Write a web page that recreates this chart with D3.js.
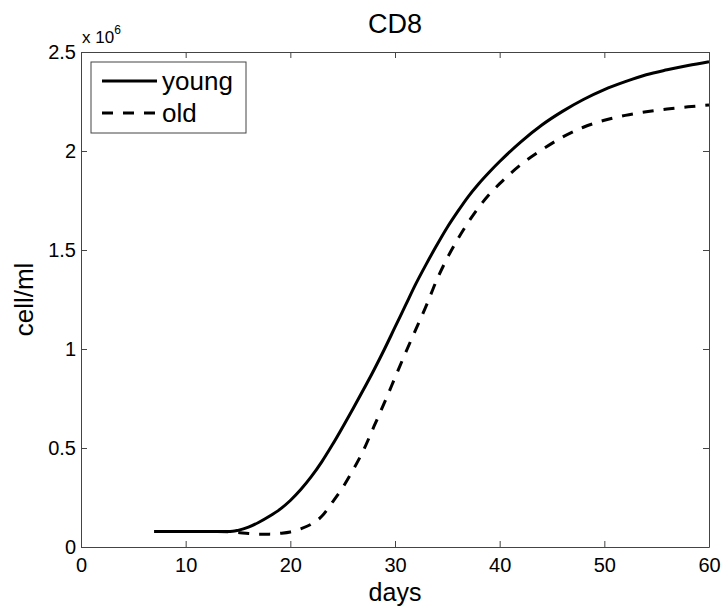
<!DOCTYPE html>
<html>

<head>
    <title>CD8</title>
    <script src="https://d3js.org/d3.v7.min.js"></script>
    <style>
        body {
            margin: 0;
            background: white;
        }

        text {
            font-family: "Liberation Sans", Arial, Helvetica, sans-serif;
            fill: #000;
        }

        .tick text {
            font-size: 20px;
        }
    </style>
</head>

<body>
    <div id="chart"></div>

    <script>
        // days and values (in units of 10^6 cell/ml)
        const youngDays = [7, 8, 10, 12, 14, 14.5, 15, 16, 17, 18, 19, 20, 21, 22, 23, 24, 26, 28, 29, 30, 31, 32, 33, 34, 35, 36, 37, 38, 39, 40, 42, 44, 46, 48, 50, 52, 54, 56, 58, 60]
        const youngValues = [0.078, 0.078, 0.078, 0.078, 0.078, 0.079, 0.084, 0.10, 0.125, 0.155, 0.19, 0.235, 0.29, 0.355, 0.43, 0.515, 0.70, 0.895, 1.0, 1.11, 1.22, 1.33, 1.43, 1.525, 1.615, 1.695, 1.77, 1.835, 1.893, 1.947, 2.045, 2.13, 2.20, 2.26, 2.31, 2.35, 2.385, 2.41, 2.432, 2.451]

        const oldDays = [7, 8, 10, 12, 14, 15, 16, 17, 18, 19, 20, 21, 22, 23, 24, 25, 26, 27, 28, 29, 30, 31, 32, 33, 34, 35, 36, 37, 38, 39, 40, 42, 44, 46, 48, 50, 52, 54, 56, 58, 60]
        const oldValues = [0.078, 0.078, 0.078, 0.078, 0.077, 0.073, 0.068, 0.065, 0.065, 0.069, 0.076, 0.092, 0.115, 0.155, 0.225, 0.30, 0.39, 0.49, 0.61, 0.73, 0.855, 0.98, 1.10, 1.22, 1.35, 1.46, 1.555, 1.64, 1.715, 1.78, 1.835, 1.93, 2.005, 2.07, 2.12, 2.155, 2.18, 2.198, 2.212, 2.223, 2.232]

        const xTicks = [0, 10, 20, 30, 40, 50, 60]
        const yTicks = [0, 0.5, 1, 1.5, 2, 2.5]
        const seriesNames = ["young", "old"]

        const width = 724, height = 610
        const margin = { top: 52, right: 15, bottom: 63, left: 81 }

        const svg = d3.select("#chart")
            .append("svg")
            .attr("width", width)
            .attr("height", height)

        const x = d3.scaleLinear().domain([0, 60]).range([margin.left, width - margin.right])
        const y = d3.scaleLinear().domain([0, 2.5]).range([height - margin.bottom, margin.top])

        // axes with inward ticks on all four sides
        const frame = svg.append("g").attr("class", "frame")

        frame.append("g")
            .attr("transform", `translate(0,${y(0)})`)
            .call(d3.axisBottom(x).tickValues(xTicks).tickSizeInner(-6).tickSizeOuter(0).tickPadding(11))

        frame.append("g")
            .attr("transform", `translate(0,${y(2.5)})`)
            .call(d3.axisTop(x).tickValues(xTicks).tickSizeInner(-6).tickSizeOuter(0).tickFormat(""))

        frame.append("g")
            .attr("transform", `translate(${x(0)},0)`)
            .call(d3.axisLeft(y).tickValues(yTicks).tickSizeInner(-6).tickSizeOuter(0).tickPadding(5).tickFormat(d3.format("")))

        frame.append("g")
            .attr("transform", `translate(${x(60)},0)`)
            .call(d3.axisRight(y).tickValues(yTicks).tickSizeInner(-6).tickSizeOuter(0).tickFormat(""))

        frame.selectAll(".tick line").attr("stroke", "#444")
        frame.selectAll(".domain").attr("stroke", "#444")

        // exponent label
        const expLabel = svg.append("text")
            .attr("x", x(0) + 1)
            .attr("y", 43)
            .style("font-size", "17px")
        expLabel.append("tspan").text("x 10")
        expLabel.append("tspan").attr("dy", -9).style("font-size", "12px").text("6")

        // title and axis labels
        svg.append("text")
            .attr("x", (x(0) + x(60)) / 2)
            .attr("y", 33)
            .attr("text-anchor", "middle")
            .style("font-size", "27px")
            .text("CD8")

        svg.append("text")
            .attr("x", (x(0) + x(60)) / 2)
            .attr("y", 601)
            .attr("text-anchor", "middle")
            .style("font-size", "25px")
            .text("days")

        svg.append("text")
            .attr("transform", `translate(33,${(y(0) + y(2.5)) / 2}) rotate(-90)`)
            .attr("text-anchor", "middle")
            .style("font-size", "26px")
            .text("cell/ml")

        // curves
        const line = d3.line()
            .x(d => x(d[0]))
            .y(d => y(d[1]))
            .curve(d3.curveMonotoneX)

        const series = [
            { name: seriesNames[0], points: d3.zip(youngDays, youngValues), dash: null },
            { name: seriesNames[1], points: d3.zip(oldDays, oldValues), dash: "11,10" }
        ]

        svg.selectAll(".curve")
            .data(series)
            .enter()
            .append("path")
            .attr("class", "curve")
            .attr("d", d => line(d.points))
            .attr("fill", "none")
            .attr("stroke", "#000")
            .attr("stroke-width", 3)
            .attr("stroke-dasharray", d => d.dash)

        // legend
        const legend = svg.append("g")
        legend.append("rect")
            .attr("x", 91)
            .attr("y", 62)
            .attr("width", 155)
            .attr("height", 71)
            .attr("fill", "white")
            .attr("stroke", "#444")
            .attr("stroke-width", 1)

        const legendRows = legend.selectAll(".row")
            .data(series)
            .enter()
            .append("g")
            .attr("class", "row")
            .attr("transform", (d, i) => `translate(0,${81 + i * 32})`)

        legendRows.append("line")
            .attr("x1", 102)
            .attr("x2", 157)
            .attr("stroke", "#000")
            .attr("stroke-width", 3)
            .attr("stroke-dasharray", d => d.dash)

        legendRows.append("text")
            .attr("x", 162)
            .attr("y", 9)
            .style("font-size", "26px")
            .text(d => d.name)
    </script>

</body>

</html>
